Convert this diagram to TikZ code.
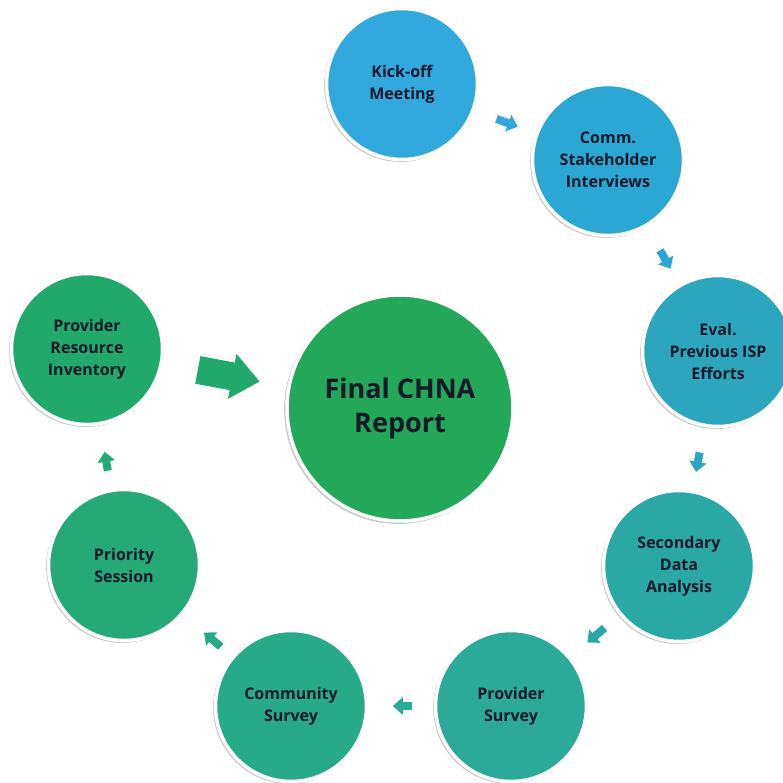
\documentclass[tikz,border=0pt]{standalone}
\usepackage{fontspec}
\setmainfont{Open Sans}
\usetikzlibrary{arrows.meta,shadows}
\definecolor{ink}{HTML}{151A2A}
\definecolor{cKick}{HTML}{31A9DD}
\definecolor{cComm}{HTML}{2BA7D4}
\definecolor{cEval}{HTML}{2CA6BF}
\definecolor{cSec}{HTML}{2AA8A6}
\definecolor{cProv}{HTML}{2BAA97}
\definecolor{cCmty}{HTML}{27AA88}
\definecolor{cPrio}{HTML}{24A977}
\definecolor{cInv}{HTML}{21A86B}
\definecolor{cFin}{HTML}{23A859}
\tikzstyle{stage}=[circle, draw=white, line width=3.5pt, minimum size=151pt, inner sep=0pt,
  align=center, text=ink, font=\bfseries\fontsize{16}{22}\selectfont,
  drop shadow={shadow xshift=-1.5pt, shadow yshift=-1.5pt, shadow scale=1.012,
    opacity=0.4, fill=black!55}]
\tikzstyle{flow}=[line width=8pt, -{Triangle[length=10pt,width=17pt]}]

\begin{document}
\begin{tikzpicture}[x=1pt,y=-1pt]
\useasboundingbox (0,0) rectangle (782,783);

\node (kickoff) at (402,84) [stage, fill=cKick]    {Kick-off\\Meeting};
\node (comm) at (608,160) [stage, fill=cComm]      {Comm.\\Stakeholder\\Interviews};
\node (eval) at (718,351) [stage, fill=cEval]      {Eval.\\Previous ISP\\Efforts};
\node (second) at (679,566) [stage, fill=cSec]     {Secondary\\Data\\Analysis};
\node (provsurv) at (511,706) [stage, fill=cProv]  {Provider\\Survey};
\node (cmtysurv) at (291,706) [stage, fill=cCmty]  {Community\\Survey};
\node (priority) at (124,565) [stage, fill=cPrio]  {Priority\\Session};
\node (inventory) at (87,349) [stage, fill=cInv]   {Provider\\Resource\\Inventory};
\node (final) at (400,408) [stage, fill=cFin, minimum size=226pt,
  font=\bfseries\fontsize{27}{34}\selectfont]      {Final CHNA\\Report};

\draw[flow, cKick, shorten <=23.5pt, shorten >=19pt] (kickoff) -- (comm);
\draw[flow, cComm, shorten <=27pt, shorten >=17.7pt] (comm) -- (eval);
\draw[flow, cEval, shorten <=25.8pt, shorten >=18.4pt] (eval) -- (second);
\draw[flow, cSec, shorten <=19.6pt, shorten >=22pt] (second) -- (provsurv);
\draw[flow, cProv, shorten <=21.5pt, shorten >=24.5pt] (provsurv) -- (cmtysurv);
\draw[flow, cCmty, shorten <=14.7pt, shorten >=27.5pt] (cmtysurv) -- (priority);
\draw[flow, cPrio, shorten <=18.4pt, shorten >=27pt] (priority) -- (inventory);

\draw[cInv, line width=28pt, -{Triangle[length=28pt,width=44pt]},
  shorten <=35.5pt, shorten >=28pt] (inventory) -- (final);
\end{tikzpicture}
\end{document}
